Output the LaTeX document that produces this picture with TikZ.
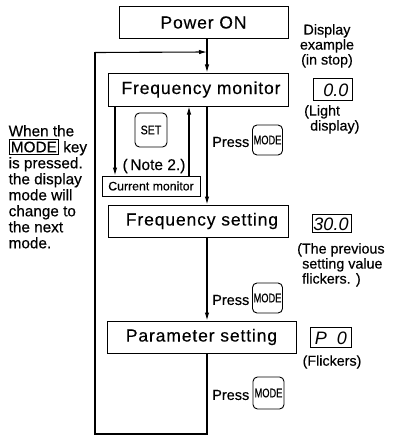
\documentclass[tikz,border=0pt]{standalone}
\usepackage{fontspec}
\setmainfont{Liberation Sans}
\usetikzlibrary{arrows.meta}
\begin{document}
\begin{tikzpicture}[x=1pt,y=-1pt,
  box/.style={draw, rectangle, line width=1pt, inner sep=0pt},
  bigtxt/.style={font=\fontsize{17.5}{20}\selectfont\addfontfeature{LetterSpace=5,FakeBold=0.3}},
  keybox/.style={draw, rounded corners=4.5pt, line width=0.9pt, inner sep=0pt,
    minimum width=30pt, minimum height=30pt, font=\fontsize{12.5}{12}\selectfont\addfontfeature{FakeBold=0.6}},
  disp/.style={draw, rectangle, line width=1pt, inner sep=0pt,
    font=\fontsize{18}{18}\selectfont\itshape},
  arr/.style={-{Latex[length=8pt,width=4.5pt]}, line width=1.1pt},
  ln/.style={line width=1.1pt},
  note/.style={font=\fontsize{14.3}{15}\selectfont\addfontfeature{FakeBold=0.4}, inner sep=0pt}]
\useasboundingbox (0,0) rectangle (395,436);

% main boxes
\node[box, bigtxt, minimum width=169pt, minimum height=32pt] (power) at (203.5,22.5) {Power ON};
\node[box, bigtxt, minimum width=180pt, minimum height=33pt] (fmon) at (198,89.5) {\hspace{6pt}Frequency monitor};
\node[box, bigtxt, minimum width=180pt, minimum height=32pt] (fset) at (198,221) {\hspace{8pt}Frequency setting};
\node[box, bigtxt, minimum width=189pt, minimum height=32pt] (pset) at (201.5,337) {Parameter setting};
\node[box, font=\fontsize{12.3}{12}\selectfont\addfontfeature{FakeBold=0.4}, minimum width=98pt, minimum height=20pt] (cmon) at (151,186) {Current monitor};

% keys
\node[keybox, minimum width=32pt, minimum height=34pt] (set) at (151,130) {\scalebox{0.85}[1]{SET}};
\node[keybox] (k1) at (267.5,140) {\scalebox{0.74}[1]{MODE}};
\node[keybox] (k2) at (267.5,298) {\scalebox{0.74}[1]{MODE}};
\node[keybox, minimum width=31pt, minimum height=32pt] (k3) at (268.5,393) {\scalebox{0.74}[1]{MODE}};
\node[note, anchor=east, font=\fontsize{14.5}{14}\selectfont\addfontfeature{FakeBold=0.4}] (p1) at (249.5,142) {Press};
\node[note, anchor=east, font=\fontsize{14.5}{14}\selectfont\addfontfeature{FakeBold=0.4}] (p2) at (249.5,300) {Press};
\node[note, anchor=east, font=\fontsize{14.5}{14}\selectfont\addfontfeature{FakeBold=0.4}] (p3) at (249.5,395) {Press};

\node[note, font=\fontsize{15.5}{15}\selectfont\addfontfeature{FakeBold=0.4}] (n2) at (154,166) {(\,Note 2.)};

% main line and loop
\coordinate (mainx) at (207,0);
\coordinate (lb) at (207,434);
\coordinate (ll) at (95,434);
\coordinate (lt) at (95,52);
\coordinate (lj) at (207,52);
\draw[arr] (power.south -| mainx) -- (fmon.north -| mainx);
\draw[arr] (fmon.south -| mainx) -- (fset.north -| mainx);
\draw[arr] (fset.south -| mainx) -- (pset.north -| mainx);
\draw[ln] (pset.south -| mainx) -- (lb) -- (ll) -- (lt);
\draw[arr] (95,52.5) -- (lj);
\coordinate (ax) at (115,0);
\coordinate (bx) at (189,0);
\draw[arr] (fmon.south -| ax) -- (cmon.north -| ax);
\draw[arr] (cmon.north -| bx) -- (fmon.south -| bx);

% left text
\node[anchor=north west, inner sep=0pt, align=left,
  font=\fontsize{15.3}{16}\selectfont\addfontfeature{FakeBold=0.4}] (lefttxt) at (8.5,125)
  {When the\\{\fboxsep=1.2pt\fboxrule=1pt\fbox{MODE}} key\\is pressed.\\the display\\mode will\\change to\\the next\\mode.};

% right side texts
\node[note, align=center, anchor=north] (dex) at (327,24) {Display\\example\\(in stop)};
\node[disp, minimum width=39pt, minimum height=22pt] (d1) at (332.5,89) {};
\node[disp, anchor=east, draw=none] (d1t) at (349,90) {0.0};
\node[note, align=left, anchor=north west] (light) at (304,105) {(Light\\\hspace{6pt}display)};
\node[disp, minimum width=39pt, minimum height=18pt] (d2) at (331.5,223.5) {};
\node[disp, anchor=center, draw=none] (d2t) at (331,224) {30.0};
\node[note, align=left, anchor=north west] (prev) at (297,243) {(The previous\\\hspace{5pt}setting value\\\hspace{5pt}flickers. )};
\node[disp, minimum width=41pt, minimum height=20pt] (d3) at (330.5,337) {};
\node[disp, anchor=center, draw=none] (d3t) at (331,338) {P\hspace{10pt}0};
\node[note] (flk) at (332,362) {(Flickers)};
\end{tikzpicture}
\end{document}
